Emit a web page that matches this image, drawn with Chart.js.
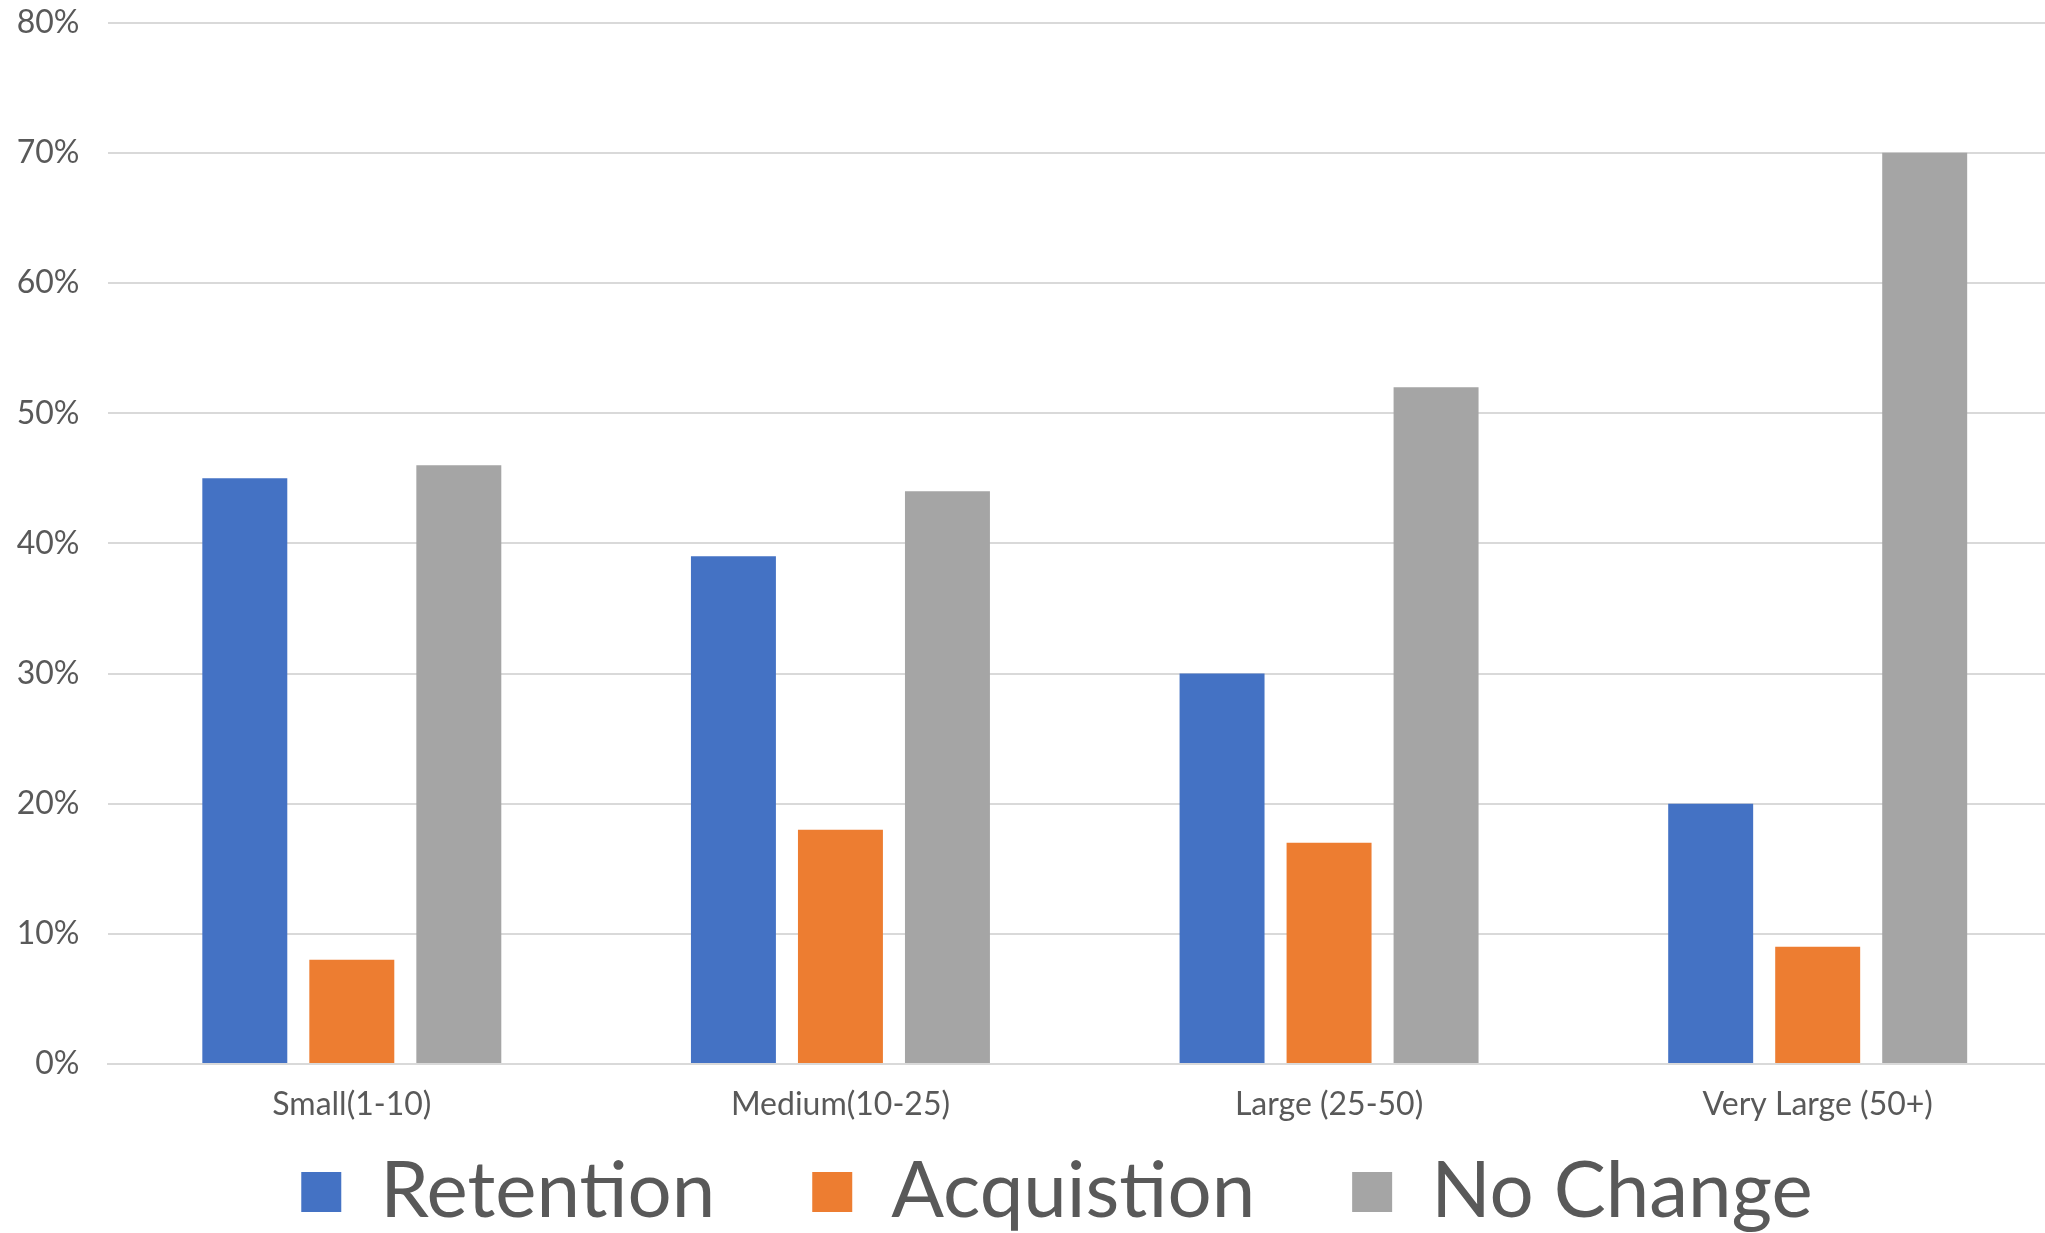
<!DOCTYPE html>
<html><head><meta charset="utf-8">
<script src="https://cdn.jsdelivr.net/npm/chart.js@4/dist/chart.umd.min.js"></script>
<style>
html,body{margin:0;padding:0;background:#fff;overflow:hidden;width:2045px;height:1233px}
#wrap{width:2045px;height:1233px;overflow:hidden;position:relative}
canvas{display:block}
</style></head>
<body><div id="wrap"><canvas id="c" width="2062" height="1233"></canvas></div>
<script>
const categories = ['Small(1-10)', 'Medium(10-25)', 'Large (25-50)', 'Very Large (50+)'];
const seriesNames = ['Retention', 'Acquistion', 'No Change'];
const retention = [45, 39, 30, 20];
const acquisition = [8, 18, 17, 9];
const noChange = [46, 44, 52, 70];
const yMin = 0, yMax = 80, yStep = 10;

const FONT = 'Lato';
const TEXT = '#595959';
const GRID = '#D9D9D9';

const legendShift = {
  id: 'legendShift',
  afterLayout(chart) {
    const lg = chart.legend;
    const pad = lg.options.labels.padding;
    lg.top = 1153 - pad; lg.bottom = chart.height; lg.height = lg.bottom - lg.top;
    lg.left = 52; lg.right = chart.width; lg.width = lg.right - lg.left;
  }
};

new Chart(document.getElementById('c'), {
  type: 'bar',
  data: {
    labels: categories,
    datasets: [
      {label: seriesNames[0], data: retention, backgroundColor: '#4472C4'},
      {label: seriesNames[1], data: acquisition, backgroundColor: '#ED7D31'},
      {label: seriesNames[2], data: noChange, backgroundColor: '#A5A5A5'}
    ]
  },
  options: {
    responsive: false,
    animation: false,
    events: [],
    categoryPercentage: 0.657,
    barPercentage: 0.794,
    layout: {padding: {top: 22.7, left: 0, right: 0, bottom: 0}},
    plugins: {
      tooltip: {enabled: false},
      legend: {
        position: 'bottom',
        maxHeight: 60,
        labels: {
          boxWidth: 40, boxHeight: 40, padding: 97,
          color: TEXT,
          font: {family: FONT, size: 78}
        }
      }
    },
    scales: {
      x: {
        grid: {display: false, drawTicks: false},
        border: {display: true, color: GRID, width: 2},
        ticks: {color: TEXT, font: {family: FONT, size: 32}, padding: 21, maxRotation: 0, autoSkip: false},
        afterFit(s) { s.height = 109; }
      },
      y: {
        min: yMin, max: yMax,
        grid: {color: GRID, lineWidth: 2, drawTicks: true, tickLength: 28, tickColor: 'rgba(0,0,0,0)'},
        border: {display: false},
        ticks: {stepSize: yStep, color: TEXT, font: {family: FONT, size: 32}, padding: 0,
                callback: v => v + '%'},
        afterFit(s) { s.width = 107.5; }
      }
    }
  },
  plugins: [legendShift]
});
</script>
</body></html>
